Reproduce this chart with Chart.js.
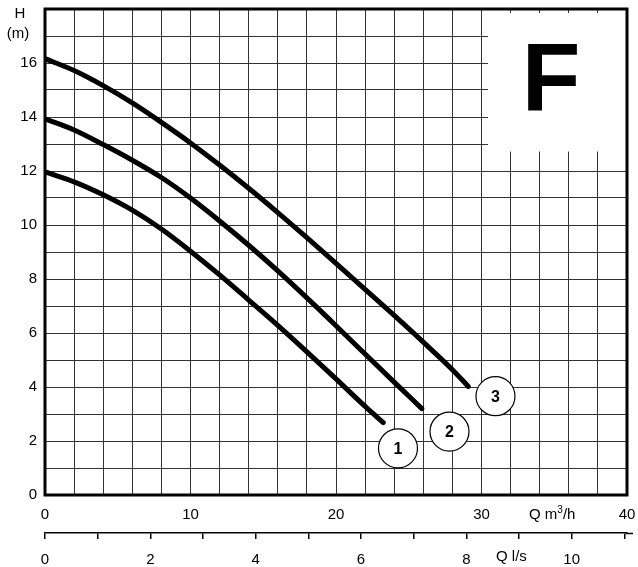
<!DOCTYPE html>
<html>
<head>
<meta charset="utf-8">
<script src="https://cdn.jsdelivr.net/npm/chart.js@4.4.1/dist/chart.umd.min.js"></script>
<style>
  html, body { margin: 0; padding: 0; background: #fff; }
  #wrap { width: 638px; height: 567px; }
</style>
</head>
<body>
<div id="wrap"><canvas id="pumpCurve" width="638" height="567"></canvas></div>
<script>
// --- Curve data (Q in m3/h, H in m) ---
var curve1Q = [0, 2, 4, 6, 8, 10, 12, 14, 16, 18, 20, 22, 23.25];
var curve1H = [11.97, 11.6, 11.12, 10.55, 9.85, 9.03, 8.15, 7.22, 6.28, 5.3, 4.3, 3.28, 2.68];

var curve2Q = [0, 2, 4, 6, 8, 10, 12, 14, 16, 18, 20, 22, 24, 25.9];
var curve2H = [13.93, 13.52, 12.98, 12.4, 11.76, 11.0, 10.15, 9.25, 8.3, 7.3, 6.27, 5.22, 4.18, 3.2];

var curve3Q = [0, 2, 4, 6, 8, 10, 12, 14, 16, 18, 20, 22, 24, 26, 28, 29.09];
var curve3H = [16.16, 15.72, 15.16, 14.52, 13.8, 13.04, 12.22, 11.36, 10.46, 9.53, 8.58, 7.62, 6.65, 5.66, 4.64, 4.02];

// numbered markers next to the curve ends
var markerLabels = ['1', '2', '3'];
var markerQ = [24.26, 27.8, 30.96];
var markerH = [1.73, 2.35, 3.66];

// axis ranges
var qMax = 40;        // m3/h
var qsMax = 11.05;    // l/s scale as printed
var hMax = 18;

var black = '#000';
var gridColor = '#333';
var fontFamily = "'Liberation Sans', Arial, Helvetica, sans-serif";

function toPoints(qs, hs) {
  return qs.map(function (q, i) { return { x: q, y: hs[i] }; });
}

function curveDataset(qs, hs) {
  return {
    type: 'line',
    data: toPoints(qs, hs),
    borderColor: black,
    borderWidth: 5,
    borderCapStyle: 'round',
    pointRadius: 0,
    cubicInterpolationMode: 'monotone',
    fill: false
  };
}

// kill the automatic label overhang padding so the frame sits where it should
function noOverhang(scale) {
  scale.paddingLeft = 0;
  scale.paddingRight = 0;
  scale.paddingTop = 0;
  scale.paddingBottom = 0;
}

// Frame, blank "F" box and free texts
var sheetPlugin = {
  id: 'sheet',
  beforeDatasetsDraw: function (chart) {
    var ctx = chart.ctx;
    var ca = chart.chartArea;
    var xs = chart.scales.x;
    var ys = chart.scales.y;
    ctx.save();
    // blank box top-right
    var bx = xs.getPixelForValue(30.45);
    var by = ys.getPixelForValue(12.72);
    ctx.fillStyle = '#fff';
    ctx.fillRect(bx, ca.top + 4, ca.right - bx, by - ca.top - 4);
    // heavy frame
    ctx.strokeStyle = black;
    ctx.lineWidth = 3;
    ctx.strokeRect(ca.left, ca.top, ca.right - ca.left, ca.bottom - ca.top);
    // big letter
    ctx.fillStyle = black;
    ctx.font = 'bold 96px ' + fontFamily;
    ctx.textAlign = 'center';
    ctx.textBaseline = 'middle';
    ctx.fillText('F', 551, 84);
    ctx.restore();
  },
  afterDatasetsDraw: function (chart) {
    var ctx = chart.ctx;
    var meta = chart.getDatasetMeta(3);
    ctx.save();
    ctx.fillStyle = black;
    ctx.font = 'bold 16px ' + fontFamily;
    ctx.textAlign = 'center';
    ctx.textBaseline = 'middle';
    meta.data.forEach(function (pt, i) {
      ctx.fillText(markerLabels[i], pt.x, pt.y + 1);
    });
    ctx.restore();
  },
  afterDraw: function (chart) {
    var ctx = chart.ctx;
    var x2 = chart.scales.x2;
    ctx.save();
    ctx.fillStyle = black;
    ctx.font = '15px ' + fontFamily;
    ctx.textBaseline = 'middle';
    ctx.textAlign = 'center';
    ctx.fillText('H', 20, 14);
    ctx.fillText('(m)', 18, 34);

    // Q m3/h with superscript
    ctx.textAlign = 'left';
    var qx = 529;
    ctx.fillText('Q m', qx, 515);
    qx += ctx.measureText('Q m').width;
    ctx.font = '10px ' + fontFamily;
    ctx.fillText('3', qx, 510);
    qx += ctx.measureText('3').width;
    ctx.font = '15px ' + fontFamily;
    ctx.fillText('/h', qx, 515);

    ctx.fillText('Q l/s', 496, 557);

    // l/s axis line runs a bit past the frame
    ctx.strokeStyle = black;
    ctx.lineWidth = 1.5;
    ctx.beginPath();
    ctx.moveTo(x2.right - 1, x2.top + 0.5);
    ctx.lineTo(633, x2.top + 0.5);
    ctx.stroke();
    ctx.restore();
  }
};

Chart.defaults.font.family = fontFamily;
Chart.defaults.font.size = 15;
Chart.defaults.color = black;

new Chart(document.getElementById('pumpCurve').getContext('2d'), {
  type: 'line',
  data: {
    datasets: [
      curveDataset(curve1Q, curve1H),
      curveDataset(curve2Q, curve2H),
      curveDataset(curve3Q, curve3H),
      {
        type: 'scatter',
        data: toPoints(markerQ, markerH),
        pointRadius: 19.5,
        pointHoverRadius: 19.5,
        pointBackgroundColor: '#fff',
        pointBorderColor: black,
        pointBorderWidth: 1.2,
        showLine: false
      }
    ]
  },
  options: {
    responsive: false,
    animation: false,
    events: [],
    layout: { autoPadding: false, padding: { top: 9, right: 11, left: 0, bottom: 0 } },
    plugins: {
      legend: { display: false },
      tooltip: { enabled: false }
    },
    scales: {
      x: {
        type: 'linear',
        position: 'bottom',
        min: 0,
        max: qMax,
        afterFit: function (scale) { noOverhang(scale); scale.height = 38; },
        grid: { color: gridColor, lineWidth: 1, drawTicks: false },
        border: { display: false },
        ticks: {
          stepSize: 2,
          padding: 11,
          maxRotation: 0,
          autoSkip: false,
          callback: function (val) { return val % 10 === 0 ? String(val) : ''; }
        }
      },
      x2: {
        type: 'linear',
        position: 'bottom',
        min: 0,
        max: qsMax,
        afterFit: function (scale) { noOverhang(scale); scale.height = 34; },
        grid: {
          display: true,
          drawOnChartArea: false,
          drawTicks: true,
          tickLength: 6,
          color: black,
          lineWidth: 1.5
        },
        border: { display: true, color: black, width: 1.5 },
        ticks: {
          stepSize: 1,
          padding: 12,
          includeBounds: false,
          maxRotation: 0,
          autoSkip: false,
          callback: function (val) { return val % 2 === 0 ? String(val) : ''; }
        }
      },
      y: {
        type: 'linear',
        min: 0,
        max: hMax,
        afterFit: function (scale) { noOverhang(scale); scale.width = 45; },
        grid: { color: gridColor, lineWidth: 1, drawTicks: false },
        border: { display: false },
        ticks: {
          stepSize: 1,
          padding: 8,
          autoSkip: false,
          callback: function (val) { return (val % 2 === 0 && val <= 16) ? String(val) : ''; }
        }
      }
    }
  },
  plugins: [sheetPlugin]
});
</script>
</body>
</html>
